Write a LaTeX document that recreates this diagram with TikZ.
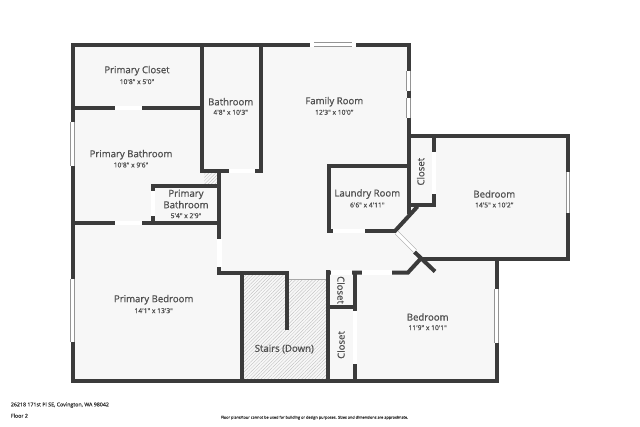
\documentclass[tikz,border=0pt]{standalone}
\usepackage{fontspec}
\setmainfont{Open Sans}
\newfontfamily\roomfont[FakeBold=0.9]{Open Sans}
\usetikzlibrary{patterns.meta}
\definecolor{wallcol}{HTML}{3B3B3B}
\definecolor{floorcol}{HTML}{F7F7F7}
\definecolor{labelcol}{HTML}{505050}
\definecolor{glasscol}{HTML}{A8A8A8}
\definecolor{hatchcol}{HTML}{BABABA}
\definecolor{panecol}{HTML}{949494}

\begin{document}
\begin{tikzpicture}[x=1pt, y=-1pt,
    wall/.style={draw=wallcol, line width=4pt, line cap=rect, line join=miter},
    stub/.style={draw=wallcol, line width=4pt},
    door/.style={draw=white, line width=4.4pt},
    slider/.style={draw=glasscol, line width=.5pt, double=white, double distance=3.4pt},
    window/.style={draw=panecol, line width=.9pt, double=white, double distance=2.8pt},
    room/.style={font=\roomfont\fontsize{9.6}{11.5}\selectfont, text=labelcol, align=center, inner sep=0pt},
    size/.style={font=\roomfont\fontsize{6.7}{7}\selectfont, text=labelcol, inner sep=0pt},
    note/.style={font=\roomfont\fontsize{5.3}{6}\selectfont, text=wallcol, anchor=west, inner sep=0pt}]

    \useasboundingbox (0,0) rectangle (640,426);

    % Floor
    \fill[floorcol] (72.5,44.7) -- (408.5,44.7) -- (408.5,135.7) -- (568,135.7) -- (568,258.7)
        -- (496.7,258.7) -- (496.7,381.3) -- (72.5,381.3) -- cycle;

    % Hatching
    \fill[pattern={Lines[angle=45, distance=2.4pt, line width=.3pt]}, pattern color=hatchcol]
        (242,275) -- (287,275) -- (287,279.3) -- (328,279.3) -- (328,381) -- (242,381) -- cycle;
    \fill[pattern={Lines[angle=45, distance=2.4pt, line width=.3pt]}, pattern color=hatchcol]
        (204,173) rectangle (217.5,184);
    \draw[glasscol, line width=.8pt] (289,279.3) -- (326,279.3);

    % Walls
    \draw[wall] (72.5,44.7) -- (408.5,44.7) -- (408.5,135.7) -- (568,135.7) -- (568,258.7)
        -- (420.7,258.7);
    \draw[wall] (496.7,258.7) -- (496.7,381.3) -- (72.5,381.3) -- (72.5,44.7);
    \draw[wall] (72.5,108) -- (201.5,108);
    \draw[wall] (201.5,44.7) -- (201.5,171) -- (260.5,171);
    \draw[stub] (260.5,44.7) -- (260.5,173);
    \draw[wall] (219.3,171) -- (219.3,273.3) -- (287,273.3) -- (287,328);
    \draw[wall] (152.7,186) -- (219.3,186);
    \draw[wall] (152.7,186) -- (152.7,223);
    \draw[wall] (72.5,223) -- (219.3,223);
    \draw[wall] (242,273.3) -- (242,381.3);
    \draw[wall] (328,272) -- (328,381.3);
    \draw[wall] (328,272.5) -- (408,272.5) -- (420.7,258.7);
    \draw[wall] (354.7,272.5) -- (354.7,381.3);
    \draw[wall] (328,307.3) -- (354.7,307.3);
    \draw[stub] (414.5,252) -- (435,271.5);
    \draw[wall] (408.5,135.7) -- (408.5,212);
    \draw[wall] (433.7,135.7) -- (433.7,204.7) -- (408.5,204.7);
    \draw[wall] (408.5,166) -- (328.7,166) -- (328.7,231) -- (395,231);
    \draw[stub] (395,231) -- (417.5,206.5);

    % Doors
    \draw[door] (115,108) -- (141.7,108);
    \draw[door] (229,171) -- (255,171);
    \draw[door] (152.7,190.7) -- (152.7,215.7);
    \draw[door] (115,223) -- (141.7,223);
    \draw[door] (219.3,239.3) -- (219.3,267.3);
    \draw[door] (333.3,231) -- (365,231);
    \draw[door] (433.7,151.7) -- (433.7,194);
    \draw[door] (330.7,272.5) -- (351.7,272.5);
    \draw[door] (361.7,272.5) -- (391.7,272.5);
    \draw[door] (354.7,310.7) -- (354.7,364.3);
    \draw[slider] (396.5,232.5) -- (415,251);

    % Windows
    \draw[door] (310,44.7) -- (356,44.7);
    \draw[window] (314,44.7) -- (352,44.7);
    \draw[window] (72.5,122.3) -- (72.5,166);
    \draw[window] (72.5,279) -- (72.5,341.7);
    \draw[window] (408.5,70.7) -- (408.5,90.7);
    \draw[window] (408.5,98.3) -- (408.5,118.3);
    \draw[window] (568,172.3) -- (568,212.7);
    \draw[window] (496.7,289) -- (496.7,343.3);

    % Labels
    \node[room] (closetname) at (137,70.7) {Primary Closet};
    \node[size] (closetsize) at (137,81.7) {10'8" x 5'0"};
    \node[room] (bathname) at (230.7,101.7) {Bathroom};
    \node[size] (bathsize) at (230.7,112.3) {4'8" x 10'3"};
    \node[room] (primbathname) at (131,154.7) {Primary Bathroom};
    \node[size] (primbathsize) at (131,165) {10'8" x 9'6"};
    \node[room] (smallbathname) at (186,199) {Primary\\Bathroom};
    \node[size] (smallbathsize) at (186,215.7) {5'4" x 2'9"};
    \node[room] (familyname) at (334.3,101.7) {Family Room};
    \node[size] (familysize) at (334.3,112.3) {12'3" x 10'0"};
    \node[room] (laundryname) at (367.3,194) {Laundry Room};
    \node[size] (laundrysize) at (367.3,205) {6'6" x 4'11"};
    \node[room, rotate=90] (closeteast) at (420.7,171.7) {Closet};
    \node[room] (bedeastname) at (494.3,194) {Bedroom};
    \node[size] (bedeastsize) at (494.3,205) {14'5" x 10'2"};
    \node[room] (primbedname) at (153.7,299.7) {Primary Bedroom};
    \node[size] (primbedsize) at (153.7,310.7) {14'1" x 13'3"};
    \node[room] (stairsname) at (284.3,349) {Stairs (Down)};
    \node[room, rotate=-90] (closettop) at (341,290) {Closet};
    \node[room, rotate=90] (closetlow) at (341,345) {Closet};
    \node[room] (bedsouthname) at (427.7,317) {Bedroom};
    \node[size] (bedsouthsize) at (427.7,327.7) {11'9" x 10'1"};

    % Footer
    \node[note] (address) at (10.7,405) {26218 171st Pl SE, Covington, WA 98042};
    \node[note] (floorname) at (10.7,415.7) {Floor 2};
    \node[note, font=\roomfont\fontsize{3.85}{4}\selectfont] (disclaimer) at (220.7,417.7)
        {Floor plans/tour cannot be used for building or design purposes. Sizes and dimensions are approximate.};

\end{tikzpicture}
\end{document}
